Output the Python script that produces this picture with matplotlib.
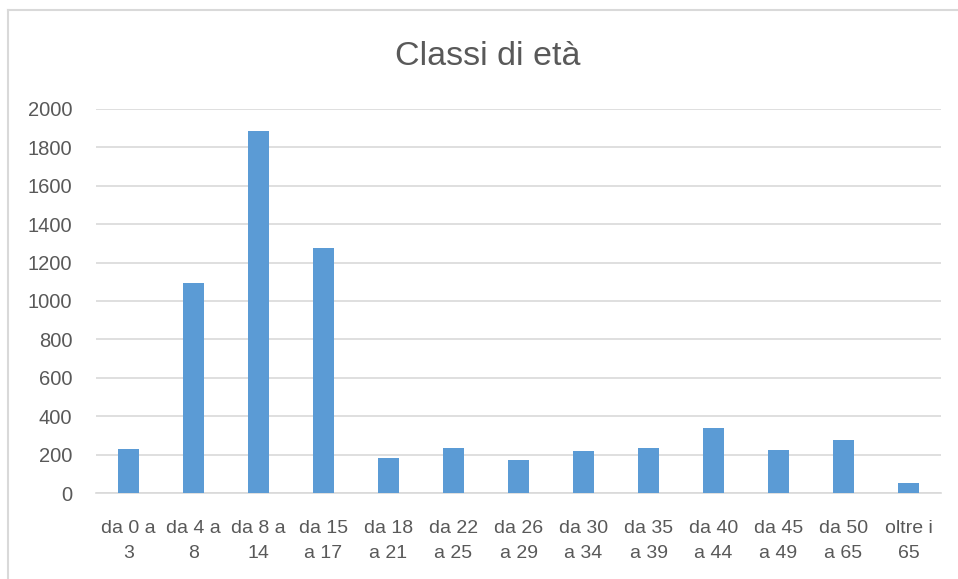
import matplotlib
matplotlib.use("Agg")
import matplotlib.pyplot as plt
from matplotlib.lines import Line2D

# dati del grafico
categorie = ["da 0 a\n3", "da 4 a\n8", "da 8 a\n14", "da 15\na 17", "da 18\na 21",
             "da 22\na 25", "da 26\na 29", "da 30\na 34", "da 35\na 39", "da 40\na 44",
             "da 45\na 49", "da 50\na 65", "oltre i\n65"]
valori = [229, 1092, 1886, 1274, 185, 236, 173, 218, 237, 338, 227, 277, 52]
yticks = [0, 200, 400, 600, 800, 1000, 1200, 1400, 1600, 1800, 2000]

plt.rcParams['font.family'] = ['Liberation Sans', 'DejaVu Sans']
grigio = "#595959"

fig = plt.figure(figsize=(9.58, 5.79), dpi=100)
ax = fig.add_axes([96 / 958, 1 - 493.3 / 579, 845 / 958, 384.6 / 579])

x = range(len(categorie))
ax.bar(x, valori, width=0.31, color="#5b9bd5", zorder=3)

ax.set_xlim(-0.5, len(categorie) - 0.5)
ax.set_ylim(0, 2000)
ax.set_yticks(yticks)
ax.set_yticklabels([str(v) for v in yticks])
ax.set_xticks(list(x))
ax.set_xticklabels(categorie, linespacing=1.65)

ax.grid(axis="y", color="#d9d9d9", linewidth=1.2, zorder=0)
for s in ["top", "right", "left"]:
    ax.spines[s].set_visible(False)
ax.spines["bottom"].set_color("#d9d9d9")
ax.spines["bottom"].set_linewidth(1.2)
ax.tick_params(axis="both", length=0, labelsize=14.5, colors=grigio)
ax.tick_params(axis="x", labelsize=14, pad=19)
ax.tick_params(axis="y", pad=17)

fig.text(488 / 958, 1 - 65 / 579, "Classi di età", ha="center", va="baseline",
         fontsize=24.5, color=grigio)

# cornice del grafico (tagliata a destra e in basso)
fig.add_artist(Line2D([7.5 / 958, 7.5 / 958], [0, 1 - 10 / 579], transform=fig.transFigure,
                      color="#d9d9d9", linewidth=1.5))
fig.add_artist(Line2D([7.5 / 958, 1], [1 - 10 / 579, 1 - 10 / 579], transform=fig.transFigure,
                      color="#d9d9d9", linewidth=1.5))

fig.savefig("out.png", dpi=100)
